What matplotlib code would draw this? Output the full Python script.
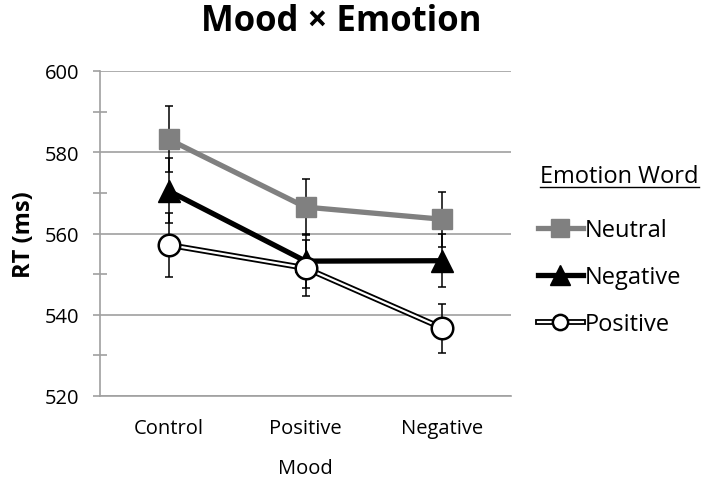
import matplotlib
matplotlib.use("Agg")
import matplotlib.pyplot as plt
import matplotlib.patheffects as pe
from matplotlib.lines import Line2D
from matplotlib.legend_handler import HandlerTuple
import numpy as np

plt.rcParams['font.family'] = ['Open Sans', 'DejaVu Sans']

moods = ["Control", "Positive", "Negative"]
series_names = ["Neutral", "Negative", "Positive"]
neutral = [583.2, 566.5, 563.5]
neutral_err = [8.1, 6.8, 6.8]
negative = [570.5, 553.2, 553.3]
negative_err = [8.0, 6.6, 6.5]
positive = [557.2, 551.5, 536.7]
positive_err = [7.8, 6.8, 6.0]
yticks = [520, 540, 560, 580, 600]
minor_yticks = [530, 550, 570, 590]

fig = plt.figure(figsize=(7.14, 4.81), dpi=100)
ax = fig.add_axes([100/714, 1-397/481, 411/714, 325/481])
x = np.arange(len(moods))

grid_c = "#a0a0a0"
for y in yticks:
    ax.axhline(y, color=grid_c, lw=1.2, zorder=0)

# Neutral
ax.plot(x, neutral, color="#808080", lw=3.8, zorder=2, solid_capstyle='butt')
ax.errorbar(x, neutral, yerr=neutral_err, fmt='none', ecolor='black', elinewidth=1.1,
            capsize=3, capthick=1.1, zorder=3)
ax.plot(x, neutral, ls='none', marker='s', ms=15, mfc="#808080", mec="#808080", zorder=4)

# Negative
ax.plot(x, negative, color="black", lw=3.8, zorder=5)
ax.errorbar(x, negative, yerr=negative_err, fmt='none', ecolor='black', elinewidth=1.1,
            capsize=3, capthick=1.1, zorder=6)
ax.plot(x, negative, ls='none', marker='^', ms=16, mfc="black", mec="black", zorder=7)

# Positive (double line)
dbl = [pe.Stroke(linewidth=4.2, foreground='black'), pe.Normal()]
ax.plot(x, positive, color="white", lw=1.6, zorder=8, path_effects=dbl)
ax.errorbar(x, positive, yerr=positive_err, fmt='none', ecolor='black', elinewidth=1.1,
            capsize=3, capthick=1.1, zorder=9)
ax.plot(x, positive, ls='none', marker='o', ms=15.5, mfc="white", mec="black", mew=1.8, zorder=10)

ax.set_xlim(-0.5, 2.5)
ax.set_ylim(520, 600)
ax.set_xticks(x)
ax.set_xticklabels(moods, fontsize=14.5)
ax.tick_params(axis='x', length=0, pad=16)
ax.set_yticks(yticks)
ax.set_yticklabels([str(v) for v in yticks], fontsize=14.5)
ax.set_yticks(minor_yticks, minor=True)
ax.tick_params(axis='y', which='major', length=5, color=grid_c, width=1.2, direction='out', pad=10)
ax.tick_params(axis='y', which='minor', length=10, color=grid_c, width=1.2, direction='inout')
for s in ['top', 'right']:
    ax.spines[s].set_visible(False)
for s in ['left', 'bottom']:
    ax.spines[s].set_color(grid_c)
    ax.spines[s].set_linewidth(1.2)

ax.set_xlabel("Mood", fontsize=14.5, labelpad=14)
ax.set_ylabel("RT (ms)", fontsize=17, fontweight='bold', labelpad=6)

fig.text(341/714, 1-22/481, "Mood × Emotion", fontsize=25, fontweight='bold',
         ha='center', va='center')

# Legend
h_neu = Line2D([], [], color="#808080", lw=3.8, marker='s', ms=12.5, mfc="#808080", mec="#808080")
h_neg = Line2D([], [], color="black", lw=3.8, marker='^', ms=14, mfc="black", mec="black")
h_pos_line = Line2D([], [], color="white", lw=1.6, path_effects=dbl)
h_pos_mk = Line2D([], [], ls='none', marker='o', ms=11, mfc="white", mec="black", mew=1.8)
leg = ax.legend([h_neu, h_neg, (h_pos_line, h_pos_mk)], series_names,
                handler_map={tuple: HandlerTuple(ndivide=1, pad=0)},
                loc='center left', bbox_to_anchor=(538/714, 1-278/481),
                bbox_transform=fig.transFigure, frameon=False, fontsize=17,
                handlelength=1.9, handletextpad=0.1, labelspacing=0.97, borderaxespad=0,
                borderpad=0)

t = fig.text(540/714, 1-177/481, "Emotion Word", fontsize=17, ha='left', va='center')
fig.canvas.draw()
bb = t.get_window_extent().transformed(fig.transFigure.inverted())
fig.add_artist(Line2D([bb.x0, bb.x1], [bb.y0 + 0.003, bb.y0 + 0.003], color='black', lw=1.0,
                      transform=fig.transFigure))

fig.savefig("out.png", dpi=100)
